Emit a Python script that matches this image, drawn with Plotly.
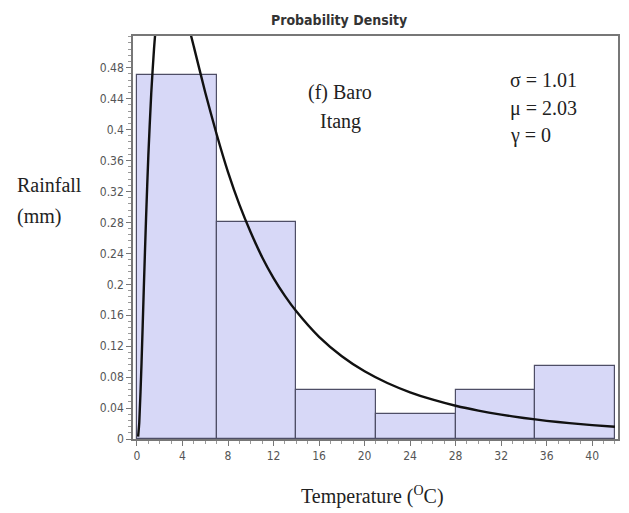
import plotly.graph_objects as go

# Histogram bins (temperature, degC) and relative frequencies
bin_left = [0, 7, 14, 21, 28, 35]
bin_width = [7, 7, 7, 7, 7, 7]
bar_values = [0.47, 0.281, 0.064, 0.032, 0.064, 0.094]

# Fitted density curve
curve_x = [0.1, 0.2, 0.4, 0.6, 0.8, 1.0, 1.25, 1.5, 1.75, 2.0, 2.5, 3.0, 3.5, 4.0,
           5.0, 6.0, 7.0, 8.0, 9.0, 10.0, 11.0, 12.0, 13.0, 14.0, 16.0, 18.0, 20.0,
           22.0, 24.0, 26.0, 28.0, 30.0, 32.0, 34.0, 36.0, 38.0, 40.0, 42.0]
curve_y = [0.003, 0.021, 0.098, 0.195, 0.287, 0.367, 0.446, 0.505, 0.547, 0.576, 0.602,
           0.603, 0.588, 0.564, 0.507, 0.448, 0.394, 0.345, 0.303, 0.267, 0.235, 0.208,
           0.185, 0.165, 0.132, 0.107, 0.0875, 0.0724, 0.0604, 0.0508, 0.043, 0.0367,
           0.0315, 0.0272, 0.0235, 0.0205, 0.0179, 0.0158]

x_ticks = [0, 4, 8, 12, 16, 20, 24, 28, 32, 36, 40]
y_ticks = [0, 0.04, 0.08, 0.12, 0.16, 0.2, 0.24, 0.28, 0.32, 0.36, 0.4, 0.44, 0.48]

fig = go.Figure()
fig.add_trace(go.Bar(
    x=bin_left, y=bar_values, width=bin_width, offset=0,
    marker=dict(color="#d7d8f7", line=dict(color="#4e4e66", width=1.2)),
    hoverinfo="skip", showlegend=False,
))
fig.add_trace(go.Scatter(
    x=curve_x, y=curve_y, mode="lines",
    line=dict(color="#111111", width=2.4, shape="spline", smoothing=0.6),
    showlegend=False,
))

sans = "DejaVu Sans Condensed, Verdana, sans-serif"
tickfont = dict(family=sans, size=12, color="#555555")
serif = "Liberation Serif, Times New Roman, serif"
tfont = dict(family=serif, size=20, color="#222222")

fig.update_layout(
    width=629, height=513,
    margin=dict(l=125, r=19, t=28, b=82),
    paper_bgcolor="white", plot_bgcolor="white",
    bargap=0,
    xaxis=dict(
        range=[-0.35, 42.27], tickvals=x_ticks, ticks="outside", ticklen=5,
        tickcolor="#777777", tickfont=tickfont, showgrid=False, zeroline=False,
        showline=True, linecolor="#777777", linewidth=1.5, mirror=True,
        minor=dict(dtick=1, tick0=0, ticks="outside", ticklen=3, tickcolor="#999999"),
    ),
    yaxis=dict(
        range=[0, 0.521], tickvals=y_ticks, ticks="outside", ticklen=5,
        tickcolor="#777777", tickfont=tickfont, showgrid=False, zeroline=False,
        showline=True, linecolor="#777777", linewidth=1.5, mirror=True,
        minor=dict(dtick=0.008, tick0=0, ticks="outside", ticklen=3, tickcolor="#999999"),
    ),
    annotations=[
        dict(text="<b>Probability Density</b>", xref="paper", yref="paper",
             x=0.425, y=1.04, xanchor="center", yanchor="middle", showarrow=False,
             font=dict(family=sans, size=14, color="#333333")),
        dict(text="Rainfall", xref="paper", yref="paper", x=-0.243, y=0.630,
             xanchor="left", yanchor="middle", showarrow=False, font=tfont),
        dict(text="(mm)", xref="paper", yref="paper", x=-0.243, y=0.553,
             xanchor="left", yanchor="middle", showarrow=False, font=tfont),
        dict(text="Temperature (<sup>O</sup>C)", xref="paper", yref="paper",
             x=0.493, y=-0.140, xanchor="center", yanchor="middle", showarrow=False,
             font=tfont),
        dict(text="(f) Baro", xref="paper", yref="paper", x=0.427, y=0.859,
             xanchor="center", yanchor="middle", showarrow=False, font=tfont),
        dict(text="Itang", xref="paper", yref="paper", x=0.427, y=0.787,
             xanchor="center", yanchor="middle", showarrow=False, font=tfont),
        dict(text="σ = 1.01", xref="paper", yref="paper", x=0.773, y=0.891,
             xanchor="left", yanchor="middle", showarrow=False, font=tfont),
        dict(text="μ = 2.03", xref="paper", yref="paper", x=0.773, y=0.821,
             xanchor="left", yanchor="middle", showarrow=False, font=tfont),
        dict(text="γ = 0", xref="paper", yref="paper", x=0.773, y=0.754,
             xanchor="left", yanchor="middle", showarrow=False, font=tfont),
    ],
)

fig.write_html("out.html")
